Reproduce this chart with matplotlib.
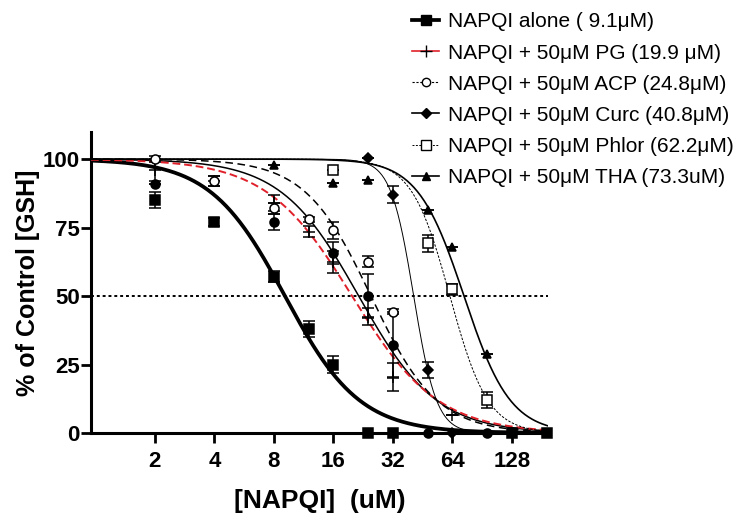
import numpy as np
import matplotlib
matplotlib.use('Agg')
import matplotlib.pyplot as plt
from matplotlib.lines import Line2D

plt.rcParams['font.family'] = ['Liberation Sans', 'DejaVu Sans']

nan = np.nan

# NAPQI concentrations (uM)
conc = [2, 4, 8, 12, 16, 24, 32, 48, 64, 96, 128, 192]

# % of control GSH
alone_y = [85, 77, 57, 38, 25, 0, 0, nan, nan, nan, 0, 0]
alone_err = [3, 1.5, 2, 3, 3, 0, 0, 0, 0, 0, 0, 0]
pg_y = [96, 92, 84, 73.5, 62.5, 42.5, 20.5, nan, 6.5, nan, nan, nan]
pg_err = [4, 2, 3, 2, 4, 3, 5, 0, 0, 0, 0, 0]
acp_y = [100, 92, 82, 78, 74, 62.5, 44.3, nan, nan, nan, nan, nan]
acp_err = [1, 2, 2, 1, 3, 2, 1, 0, 0, 0, 0, 0]
circ_y = [91, nan, 77, nan, 65.7, 50, 32, 0, nan, 0, nan, nan]
circ_err = [0, 0, 3, 0, 4, 8, 12, 0, 0, 0, 0, 0]
curc_y = [nan, nan, nan, nan, nan, 100.5, 87, 23, 0, nan, 0, nan]
curc_err = [0, 0, 0, 0, 0, 0, 3, 3, 0, 0, 0, 0]
phlor_y = [nan, nan, nan, nan, 96, nan, nan, 69.2, 52.4, 12, nan, nan]
phlor_err = [0, 0, 0, 0, 0, 0, 0, 3, 2, 3, 0, 0]
tha_y = [nan, nan, 97.8, nan, 91.2, 92.3, nan, 81.4, 67.8, 29, nan, nan]
tha_err = [0] * 12

# fitted IC50 (uM) and Hill slope of each curve
alone_fit = (9.1, 2.3)
pg_fit = (19.9, 2.0)
acp_fit = (24.8, 2.6)
circ_fit = (21.5, 2.2)
curc_fit = (40.8, 7.5)
phlor_fit = (62.2, 4.5)
tha_fit = (73.3, 3.7)

labels = ['NAPQI alone ( 9.1\u03bcM)',
          'NAPQI + 50\u03bcM PG (19.9 \u03bcM)',
          'NAPQI + 50\u03bcM ACP (24.8\u03bcM)',
          'NAPQI + 50\u03bcM Curc (40.8\u03bcM)',
          'NAPQI + 50\u03bcM Phlor (62.2\u03bcM)',
          'NAPQI + 50\u03bcM THA (73.3uM)']


def hill(x, ic50, h):
    return 100.0 / (1.0 + (x / ic50) ** h)


fig = plt.figure(figsize=(7.42, 5.22), dpi=100)
ax = fig.add_axes([0.1226, 0.1705, 0.6159, 0.5772])
ax.set_xscale('log', base=2)
xlo, xhi = 0.95, 195
xs = np.logspace(np.log2(xlo), np.log2(xhi), 400, base=2)

# curves
ax.plot(xs, hill(xs, *alone_fit), color='black', lw=2.7, zorder=3)
ax.plot(xs, hill(xs, *circ_fit), color='black', lw=1.1, zorder=3)
ax.plot(xs, hill(xs, *pg_fit), color='#e0202a', lw=1.4, ls=(0, (4, 2)), zorder=3)
ax.plot(xs, hill(xs, *acp_fit), color='black', lw=1.1, ls=(0, (5, 3)), zorder=3)
ax.plot(xs, hill(xs, *curc_fit), color='black', lw=0.7, zorder=3)
ax.plot(xs, hill(xs, *phlor_fit), color='black', lw=0.7, ls=(0, (2.5, 1.5)), zorder=3)
ax.plot(xs, hill(xs, *tha_fit), color='black', lw=1.2, zorder=3)

ax.axhline(50, color='black', lw=1.4, ls=(0, (1.5, 1.5)), zorder=2)

# points with error bars
series = [
    (alone_y, alone_err, 's', 'black', 6.5),
    (pg_y, pg_err, '+', 'black', 8),
    (acp_y, acp_err, 'o', 'white', 6.5),
    (circ_y, circ_err, 'o', 'black', 6.5),
    (curc_y, curc_err, 'D', 'black', 5.5),
    (phlor_y, phlor_err, 's', 'white', 6.5),
    (tha_y, tha_err, '^', 'black', 6),
]
for y, err, mk, fc, ms in series:
    eb = ax.errorbar(conc, y, yerr=err, fmt=mk, mfc=fc, mec='black', ms=ms,
                     mew=1.1, ecolor='black', elinewidth=1.1, capsize=4,
                     capthick=1.1, zorder=4)
    eb.lines[0].set_clip_on(False)

ax.set_xlim(xlo, xhi)
ax.set_ylim(0, 110)
ax.set_xticks([2, 4, 8, 16, 32, 64, 128])
ax.set_xticklabels(['2', '4', '8', '16', '32', '64', '128'])
ax.xaxis.set_minor_locator(plt.NullLocator())
ax.set_yticks([0, 25, 50, 75, 100])
for s in ['top', 'right']:
    ax.spines[s].set_visible(False)
for s in ['left', 'bottom']:
    ax.spines[s].set_linewidth(2.2)
ax.tick_params(axis='both', width=2, length=7, labelsize=16)
ax.tick_params(axis='y', pad=1)
ax.tick_params(axis='x', pad=6)
for t in ax.get_xticklabels() + ax.get_yticklabels():
    t.set_fontweight('bold')

ax.set_ylabel('% of Control [GSH]', fontsize=18, fontweight='bold')
ax.set_xlabel('[NAPQI]  (uM)', fontsize=19, fontweight='bold', labelpad=12)
ax.yaxis.set_label_coords(-0.112, 0.5)

# legend
handles = [
    Line2D([], [], color='black', lw=2.7, marker='s', ms=6.5),
    Line2D([], [], color='#e0202a', lw=1.2, marker='+', ms=8, mec='black'),
    Line2D([], [], color='black', lw=0.8, ls=(0, (2, 1.5)), marker='o', ms=6, mfc='white', mec='black'),
    Line2D([], [], color='black', lw=1.2, marker='D', ms=5.5),
    Line2D([], [], color='black', lw=0.7, ls=(0, (2, 1.5)), marker='s', ms=6.5, mfc='white', mec='black'),
    Line2D([], [], color='black', lw=1.2, marker='^', ms=6),
]
fig.legend(handles, labels, loc='upper left', bbox_to_anchor=(0.53, 1.012),
           frameon=False, fontsize=15, handlelength=1.3, handletextpad=0.45,
           labelspacing=0.58)

fig.savefig('out.png', dpi=100)
